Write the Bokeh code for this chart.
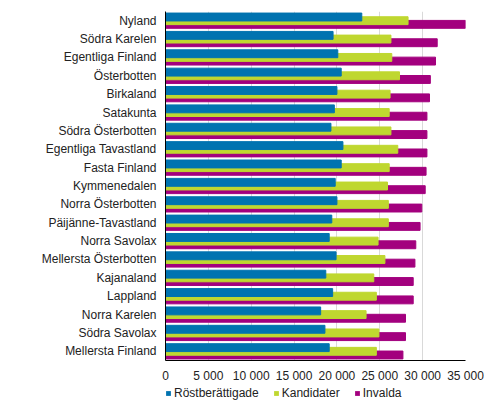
from bokeh.plotting import figure
from bokeh.models import (ColumnDataSource, FactorRange, Range1d, FixedTicker,
                          Legend, LegendItem)
from bokeh.layouts import column
from bokeh.transform import dodge
from bokeh.embed import file_html
from bokeh.resources import INLINE

regions = ["Nyland", "Södra Karelen", "Egentliga Finland", "Österbotten",
           "Birkaland", "Satakunta", "Södra Österbotten", "Egentliga Tavastland",
           "Fasta Finland", "Kymmenedalen", "Norra Österbotten",
           "Päijänne-Tavastland", "Norra Savolax", "Mellersta Österbotten",
           "Kajanaland", "Lappland", "Norra Karelen", "Södra Savolax",
           "Mellersta Finland"]
rostberattigade = [22900, 19550, 20100, 20500, 20000, 19700, 19300, 20700,
                   20500, 19800, 20000, 19400, 19100, 19900, 18700, 19500,
                   18100, 18600, 19100]
kandidater = [28300, 26300, 26400, 27300, 26200, 26100, 26300, 27100,
              26100, 25900, 26000, 26000, 24800, 25600, 24300, 24600,
              23400, 24900, 24600]
invalda = [35000, 31700, 31500, 30900, 30800, 30500, 30500, 30500,
           30400, 30300, 29900, 29700, 29200, 29100, 28900, 28900,
           28000, 28000, 27700]
series = ["Röstberättigade", "Kandidater", "Invalda"]
colors = ["#0073b0", "#bfd730", "#a3007e"]
tick_values = [0, 5000, 10000, 15000, 20000, 25000, 30000, 35000]
tick_labels = ["0", "5 000", "10 000", "15 000", "20 000", "25 000", "30 000", "35 000"]

src = ColumnDataSource(dict(region=regions, r=rostberattigade, k=kandidater, i=invalda))

p = figure(frame_width=300, frame_height=349,
           y_range=FactorRange(*regions[::-1]),
           x_range=Range1d(0, 35000), output_backend="svg", toolbar_location=None,
           min_border_left=165, min_border_right=19, min_border_top=11,
           min_border_bottom=0)
p.outline_line_color = None

bar_h = 0.43
p.hbar(y=dodge("region", -0.2, range=p.y_range), right="i", height=bar_h,
       color=colors[2], source=src)
p.hbar(y=dodge("region", 0.0, range=p.y_range), right="k", height=bar_h,
       color=colors[1], source=src)
p.hbar(y=dodge("region", 0.2, range=p.y_range), right="r", height=bar_h,
       color=colors[0], source=src)

p.ygrid.grid_line_color = None
p.xgrid.grid_line_color = "#d9d9d9"
p.xgrid.ticker = FixedTicker(ticks=tick_values)

p.xaxis.ticker = FixedTicker(ticks=tick_values)
p.xaxis.major_label_overrides = dict(zip(tick_values, tick_labels))
p.xaxis.major_tick_line_color = None
p.xaxis.minor_tick_line_color = None
p.xaxis.major_tick_out = 0
p.xaxis.major_tick_in = 0
p.xaxis.axis_line_color = "black"
p.xaxis.major_label_standoff = 8
p.xaxis.major_label_text_font = "Liberation Sans"
p.xaxis.major_label_text_font_size = "12px"
p.xaxis.major_label_text_color = "#222222"

p.yaxis.major_tick_line_color = None
p.yaxis.major_tick_out = 0
p.yaxis.major_tick_in = 0
p.yaxis.axis_line_color = "black"
p.yaxis.major_label_standoff = 9
p.yaxis.major_label_text_font = "Liberation Sans"
p.yaxis.major_label_text_font_size = "12px"
p.yaxis.major_label_text_color = "#222222"

# legend lives in its own strip below the chart (frame gets aligned with the chart's)
leg = figure(width=484, height=24, x_range=Range1d(0, 1), y_range=Range1d(0, 1),
             output_backend="svg", toolbar_location=None, min_border=0,
             x_axis_location=None, y_axis_location=None)
leg.outline_line_color = None
leg.grid.visible = False
items = []
for name, c in zip(series, colors):
    # zero-width proxy bar, only there to give the legend its swatch
    r = leg.hbar(y=[0.5], left=[0], right=[0], height=0.5,
                 fill_color=c, line_alpha=0)
    items.append(LegendItem(label=name, renderers=[r]))
legend = Legend(items=items, orientation="horizontal", location=(0, 9),
                glyph_width=6, glyph_height=6, label_standoff=3, spacing=14,
                padding=0, margin=0, border_line_color=None,
                background_fill_alpha=0,
                label_text_font="Liberation Sans", label_text_font_size="12px",
                label_text_color="#222222", label_height=14)
leg.add_layout(legend)

open("out.html", "w").write(file_html(column(p, leg, spacing=0), INLINE))
